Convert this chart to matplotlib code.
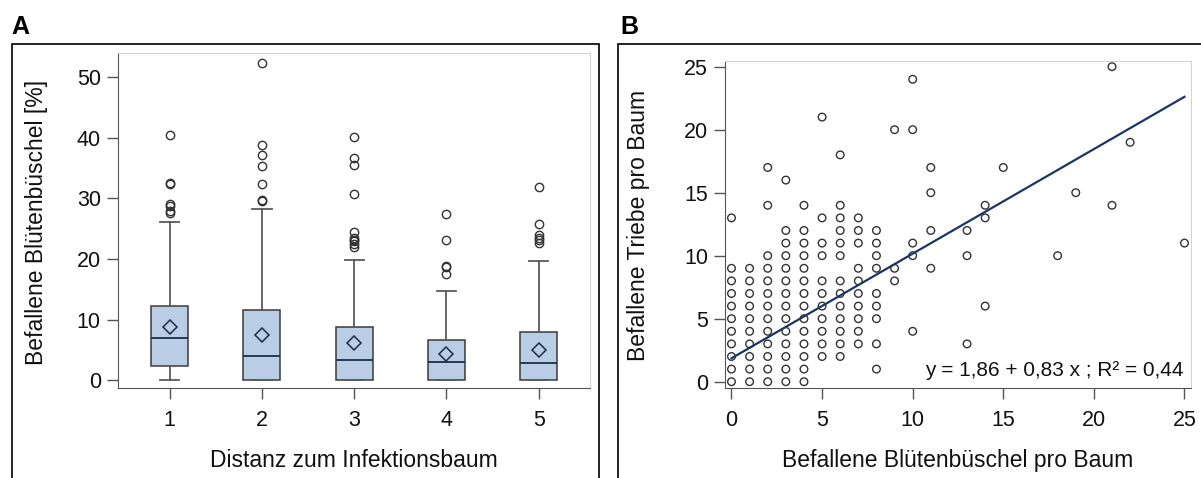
import matplotlib
matplotlib.use("Agg")
import matplotlib.pyplot as plt
from matplotlib.patches import Rectangle
import numpy as np

plt.rcParams['font.family'] = ['Liberation Sans', 'DejaVu Sans']

# Panel A: box statistics (Befallene Blütenbüschel [%])
distanz = [1, 2, 3, 4, 5]
q1 = [2.3, 0.0, 0.0, 0.0, 0.0]
median = [6.9, 4.0, 3.4, 3.0, 2.9]
q3 = [12.2, 11.5, 8.7, 6.6, 8.0]
mittel = [8.7, 7.4, 6.2, 4.3, 5.0]
whis_lo = [0.0, 0.0, 0.0, 0.0, 0.0]
whis_hi = [26.1, 28.2, 19.9, 14.7, 19.6]
ausreisser = [
    [40.5, 32.3, 32.6, 29.1, 28.7, 28.0, 27.6],
    [52.4, 38.8, 37.1, 35.4, 32.3, 29.7, 29.6],
    [40.2, 36.6, 35.5, 30.7, 24.4, 23.5, 23.2, 22.9, 22.4, 21.9],
    [27.5, 23.2, 18.9, 18.7, 17.6],
    [31.9, 25.7, 24.0, 23.5, 23.1, 22.7],
]

# Panel B: befallene Blütenbüschel (x) vs befallene Triebe (y) pro Baum
bluten = [0, 1, 2, 3, 4,
          0, 1, 2, 3, 4, 8,
          0, 1, 2, 3, 4, 5, 6,
          0, 1, 2, 3, 4, 5, 6, 7, 8, 13,
          0, 1, 2, 3, 4, 5, 6, 7, 10,
          0, 1, 2, 3, 4, 5, 6, 7, 8,
          0, 1, 2, 3, 4, 5, 6, 7, 8, 14,
          0, 1, 2, 3, 4, 5, 6, 7, 8,
          0, 1, 2, 3, 4, 5, 6, 7, 9,
          0, 1, 2, 3, 4, 7, 8, 9, 11,
          2, 3, 4, 5, 6, 8, 10, 13, 18,
          3, 4, 5, 6, 7, 8, 10, 25,
          3, 4, 6, 7, 8, 11, 13,
          0, 5, 6, 7, 14,
          2, 4, 6, 14, 21,
          11, 19,
          3,
          2, 11, 15,
          6,
          22,
          9, 10,
          5,
          10,
          21]
triebe = [0, 0, 0, 0, 0,
          1, 1, 1, 1, 1, 1,
          2, 2, 2, 2, 2, 2, 2,
          3, 3, 3, 3, 3, 3, 3, 3, 3, 3,
          4, 4, 4, 4, 4, 4, 4, 4, 4,
          5, 5, 5, 5, 5, 5, 5, 5, 5,
          6, 6, 6, 6, 6, 6, 6, 6, 6, 6,
          7, 7, 7, 7, 7, 7, 7, 7, 7,
          8, 8, 8, 8, 8, 8, 8, 8, 8,
          9, 9, 9, 9, 9, 9, 9, 9, 9,
          10, 10, 10, 10, 10, 10, 10, 10, 10,
          11, 11, 11, 11, 11, 11, 11, 11,
          12, 12, 12, 12, 12, 12, 12,
          13, 13, 13, 13, 13,
          14, 14, 14, 14, 14,
          15, 15,
          16,
          17, 17, 17,
          18,
          19,
          20, 20,
          21,
          24,
          25]
achsenabschnitt = 1.86
steigung = 0.83
r2 = 0.44

W, H = 1201, 478
fig = plt.figure(figsize=(W / 100, H / 100), dpi=100)

def px_axes(left, top, right, bottom):
    return fig.add_axes([left / W, 1 - bottom / H, (right - left) / W, (bottom - top) / H])

dark = '#333333'
light = '#d4d4d4'

def style(ax):
    for s in ('top', 'right'):
        ax.spines[s].set_color(light)
    for s in ('left', 'bottom'):
        ax.spines[s].set_color('#555555')
    ax.tick_params(direction='out', length=8, width=1, color='#555555',
                   labelsize=15.5, labelcolor='#111111')
    ax.tick_params(axis='x', pad=8)
    ax.tick_params(axis='y', pad=4)

# frames and panel letters
fig.patches.append(Rectangle((11.5 / W, -0.1), (599 - 11.5) / W, 1.1 - 44 / H,
                             transform=fig.transFigure, fill=False, lw=1.2,
                             edgecolor='black'))
fig.patches.append(Rectangle((618.5 / W, -0.1), 0.6, 1.1 - 44 / H,
                             transform=fig.transFigure, fill=False, lw=1.2,
                             edgecolor='black'))
fig.text(11 / W, 1 - 34 / H, 'A', fontsize=18, fontweight='bold', va='baseline')
fig.text(620 / W, 1 - 34 / H, 'B', fontsize=18, fontweight='bold', va='baseline')

# ---- Panel A ----
axA = px_axes(117.5, 53, 590, 388)
stats = []
for i in range(len(distanz)):
    stats.append(dict(med=median[i], q1=q1[i], q3=q3[i], whislo=whis_lo[i],
                      whishi=whis_hi[i], mean=mittel[i], fliers=ausreisser[i]))
axA.bxp(stats, positions=distanz, widths=0.4, capwidths=0.21, showmeans=True,
        patch_artist=True,
        boxprops=dict(facecolor='#b9cde5', edgecolor='#3a3a3a', linewidth=1.1),
        medianprops=dict(color='#1c2c4c', linewidth=1.3),
        whiskerprops=dict(color='#5a5a5a', linewidth=1.3),
        capprops=dict(color='#5a5a5a', linewidth=1.3),
        meanprops=dict(marker='D', markerfacecolor='none', markeredgecolor='#1c2c4c',
                       markersize=7, markeredgewidth=1.1),
        flierprops=dict(marker='o', markerfacecolor='none', markeredgecolor=dark,
                        markersize=6, markeredgewidth=1.0))
axA.set_xlim(0.435, 5.555)
axA.set_ylim(-1.3, 54.0)
axA.set_yticks([0, 10, 20, 30, 40, 50])
axA.set_xticks(distanz)
axA.set_xticklabels([str(d) for d in distanz])
style(axA)
axA.set_xlabel('Distanz zum Infektionsbaum', fontsize=16.5, color='#111111', labelpad=13)
axA.set_ylabel('Befallene Blütenbüschel [%]', fontsize=16.5, color='#111111')
axA.yaxis.set_label_coords(-0.147, 0.495)

# ---- Panel B ----
axB = px_axes(724.6, 61, 1191, 388)
axB.scatter(bluten, triebe, s=30, facecolors='none', edgecolors=dark, linewidths=1.0,
            zorder=2)
xs = np.array([0, 25])
axB.plot(xs, achsenabschnitt + steigung * xs, color='#1a3566', lw=1.6, zorder=3)
axB.set_xlim(-0.38, 25.36)
axB.set_ylim(-0.5, 25.45)
axB.set_xticks([0, 5, 10, 15, 20, 25])
axB.set_yticks([0, 5, 10, 15, 20, 25])
style(axB)
axB.set_xlabel('Befallene Blütenbüschel pro Baum', fontsize=16.5, color='#111111', labelpad=13)
axB.set_ylabel('Befallene Triebe pro Baum', fontsize=16.5, color='#111111')
axB.yaxis.set_label_coords(-0.16, 0.498)
gl = f'y = {achsenabschnitt:.2f} + {steigung:.2f} x ; R² = {r2:.2f}'.replace('.', ',')
axB.text(0.985, 0.025, gl, transform=axB.transAxes, ha='right', va='bottom',
         fontsize=15, color='#111111')

fig.savefig('out.png', dpi=100)
